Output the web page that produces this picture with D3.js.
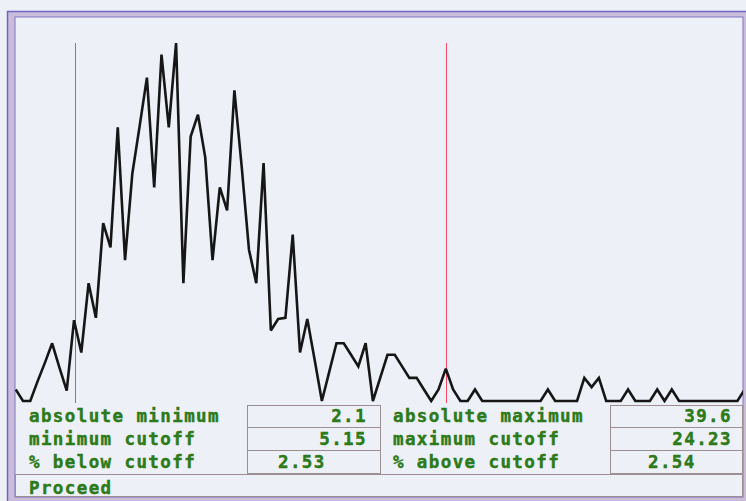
<!DOCTYPE html>
<html>
<head>
<meta charset="utf-8">
<script src="https://cdn.jsdelivr.net/npm/d3@7/dist/d3.min.js"></script>
<style>
  html, body { margin: 0; padding: 0; background: #eef0f8; }
  svg { display: block; }
  .lbl { font-family: "DejaVu Sans Mono", monospace; font-weight: bold; font-size: 17.5px; letter-spacing: 1.4px; fill: #2c7a19; stroke: #2c7a19; stroke-width: 0.45px; }
</style>
</head>
<body>
<svg id="chart" width="746" height="501"></svg>
<script>
// Distribution summary
const absoluteMin = 2.1;
const absoluteMax = 39.6;
const minCutoff = 5.15;
const maxCutoff = 24.23;
const pctBelow = 2.53;
const pctAbove = 2.54;

// Frequency of each of the 101 evenly spaced bins between the absolute minimum and maximum
const counts = [
  1, 0, 0, 1.7, 3.3, 5, 2.9, 0.9, 7, 4.2,
  10.2, 7.2, 15.4, 13.3, 23.7, 12.2, 19.7, 23.8, 28, 18.5,
  30, 23.7, 31, 10.2, 22.9, 24.8, 21.1, 12.2, 18.5, 16.5,
  26.9, 20.3, 13.1, 10.2, 20.6, 6.1, 7.1, 7.2, 14.4, 4.2,
  7.1, 3.6, 0, 2.5, 5, 5, 4, 3, 5, 0,
  2, 4, 4, 3, 2, 2, 1, 0, 1, 2.8,
  1, 0, 0, 1, 0, 0, 0, 0, 0, 0,
  0, 0, 0, 1, 0, 0, 0, 0, 2, 1.2,
  2, 0, 0, 0, 1, 0, 0, 0, 1, 0,
  1, 0, 0, 0, 0, 0, 0, 0, 0, 0,
  1
];
const binX = d3.range(counts.length).map(i => absoluteMin + i * (absoluteMax - absoluteMin) / (counts.length - 1));

// Read-out table
const leftLabels = ["absolute minimum", "minimum cutoff", "% below cutoff"];
const leftValues = [String(absoluteMin), String(minCutoff), String(pctBelow)];
const rightLabels = ["absolute maximum", "maximum cutoff", "% above cutoff"];
const rightValues = [String(absoluteMax), String(maxCutoff), String(pctAbove)];
const actionLabel = "Proceed";

const svg = d3.select("#chart");
const W = 746, H = 501;

// window frame
svg.append("rect").attr("x", 0).attr("y", 0).attr("width", W).attr("height", H).attr("fill", "#eef0f8");
svg.append("rect").attr("x", 7).attr("y", 11).attr("width", W - 7).attr("height", H - 11).attr("fill", "#cbbcd9");
svg.append("path")
  .attr("d", "M7.5,501 V11.5 H746")
  .attr("fill", "none").attr("stroke", "#6f66c4").attr("stroke-width", 1.5);
svg.append("rect").attr("x", 15).attr("y", 17).attr("width", 728).attr("height", 480)
  .attr("fill", "#eef0f8").attr("stroke", "#7d74c8").attr("stroke-width", 1);

// plot area
const plot = { left: 15, right: 743, top: 17, bottom: 403 };
svg.append("clipPath").attr("id", "plotClip")
  .append("rect").attr("x", plot.left).attr("y", plot.top)
  .attr("width", plot.right - plot.left).attr("height", plot.bottom - plot.top);

const x = d3.scaleLinear().domain([absoluteMin, absoluteMax]).range([15.7, 744.7]);
const y = d3.scaleLinear().domain([0, d3.max(counts)]).range([401, 43]);

const g = svg.append("g").attr("clip-path", "url(#plotClip)");

// cutoff markers
g.selectAll("line.cut").data([minCutoff, maxCutoff]).join("line")
  .attr("class", "cut")
  .attr("x1", d => Math.round(x(d)) + 0.5).attr("x2", d => Math.round(x(d)) + 0.5)
  .attr("y1", y(d3.max(counts))).attr("y2", plot.bottom)
  .attr("stroke", "#ee4a64").attr("stroke-width", 1)
  .attr("shape-rendering", "crispEdges");

// frequency polygon
const line = d3.line().x((d, i) => x(binX[i])).y(d => y(d));
g.append("path").datum(counts)
  .attr("d", line)
  .attr("fill", "none").attr("stroke", "#161616").attr("stroke-width", 2.6)
  .attr("stroke-linejoin", "miter").attr("stroke-miterlimit", 3);

// value boxes
const rowTop = [405, 427, 450];
const rowBottom = [427, 450, 473];
const baselines = [421.5, 444.5, 467.5];
const boxStroke = "#9b8f92";
[[247.5, 380.5], [610.5, 742.5]].forEach(([bx0, bx1]) => {
  rowTop.forEach((t, i) => {
    svg.append("rect").attr("x", bx0).attr("y", t + 0.5)
      .attr("width", bx1 - bx0).attr("height", rowBottom[i] - t)
      .attr("fill", "none").attr("stroke", boxStroke).attr("stroke-width", 1);
  });
});
// action bar
svg.append("rect").attr("x", 15.5).attr("y", 474.5).attr("width", 727).attr("height", 22)
  .attr("fill", "none").attr("stroke", boxStroke).attr("stroke-width", 1);

// labels
leftLabels.forEach((t, i) => svg.append("text").attr("class", "lbl").attr("x", 29).attr("y", baselines[i]).text(t));
rightLabels.forEach((t, i) => svg.append("text").attr("class", "lbl").attr("x", 393).attr("y", baselines[i]).text(t));

// values: first two rows right-aligned, percentage row set in from the left
leftValues.forEach((t, i) => {
  const tx = svg.append("text").attr("class", "lbl").attr("y", baselines[i]).text(t);
  if (i < 2) tx.attr("x", 367).attr("text-anchor", "end");
  else tx.attr("x", 278);
});
rightValues.forEach((t, i) => {
  const tx = svg.append("text").attr("class", "lbl").attr("y", baselines[i]).text(t);
  if (i < 2) tx.attr("x", 732).attr("text-anchor", "end");
  else tx.attr("x", 648);
});
svg.append("text").attr("class", "lbl").attr("x", 29).attr("y", 494).text(actionLabel);
</script>
</body>
</html>
